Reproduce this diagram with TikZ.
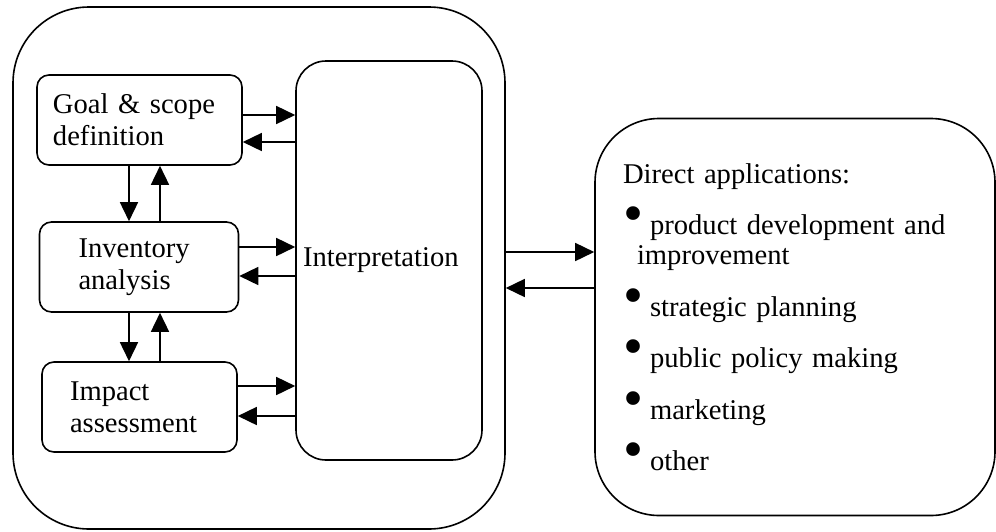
\documentclass[tikz,border=0pt]{standalone}
\usepackage{fontspec}
\setmainfont{Liberation Serif}
\usetikzlibrary{arrows.meta}

\newcommand{\appdot}{\smash{\raisebox{1pt}{\scalebox{2}{\textbullet}}}\hspace{3.5pt}}

\begin{document}
\begin{tikzpicture}[x=0.5pt, y=-0.5pt,
		font=\fontsize{14.3}{16}\selectfont,
		box/.style={draw, line width=0.8pt, rounded corners=6pt, minimum height=45pt, align=left},
		arr/.style={line width=0.8pt, -{Triangle[length=9.5pt, width=9pt]}}]
		\useasboundingbox (0,0) rectangle (996,531);

		\node [box, rounded corners=38pt, minimum width=246pt, minimum height=261pt] (lca) at (259,268) {};
		\node [box, inner xsep=8pt, text width=86.5pt] (goal) at (139.5,120) {Goal \& scope\\definition};
		\node [box, inner xsep=19.5pt, text width=60.5pt] (inv) at (139,267) {Inventory\\analysis};
		\node [box, inner xsep=14pt, text width=69.5pt] (imp) at (139.5,407) {Impact\\assessment};
		\node [box, rounded corners=15pt, inner xsep=3.5pt, text width=86pt, minimum height=199.5pt] (interp) at (389,260.5) {Interpretation};
		\node [box, rounded corners=32pt, inner xsep=14pt, text width=172pt, minimum height=198.5pt,
			font=\fontsize{14.3}{15}\selectfont] (apps) at (795,317) {Direct applications:\\[10.75pt]
			\appdot product development and\\
			\hspace*{7pt}improvement\\[10.75pt]
			\appdot strategic planning\\[10.75pt]
			\appdot public policy making\\[10.75pt]
			\appdot marketing\\[10.75pt]
			\appdot other};

		% phases <-> interpretation
		\path[arr] ([yshift=2.5pt]goal.east) edge ([yshift=2.5pt]goal.east -| interp.west);
		\path[arr] ([yshift=-11pt]interp.west |- goal.east) edge ([yshift=-11pt]goal.east);
		\path[arr] ([yshift=10pt]inv.east) edge ([yshift=10pt]inv.east -| interp.west);
		\path[arr] ([yshift=-4.5pt]interp.west |- inv.east) edge ([yshift=-4.5pt]inv.east);
		\path[arr] ([yshift=10.5pt]imp.east) edge ([yshift=10.5pt]imp.east -| interp.west);
		\path[arr] ([yshift=-4.5pt]interp.west |- imp.east) edge ([yshift=-4.5pt]imp.east);

		% phases among themselves
		\path[arr] ([xshift=-5.25pt]goal.south) edge ([xshift=-5.25pt]goal.south |- inv.north);
		\path[arr] ([xshift=10.25pt]goal.south |- inv.north) edge ([xshift=10.25pt]goal.south);
		\path[arr] ([xshift=-5pt]inv.south) edge ([xshift=-5pt]inv.south |- imp.north);
		\path[arr] ([xshift=10.5pt]inv.south |- imp.north) edge ([xshift=10.5pt]inv.south);

		% framework <-> applications
		\path[arr] ([yshift=8pt]lca.east) edge ([yshift=8pt]lca.east -| apps.west);
		\path[arr] ([yshift=-10pt]apps.west |- lca.east) edge ([yshift=-10pt]lca.east);
	\end{tikzpicture}
\end{document}
